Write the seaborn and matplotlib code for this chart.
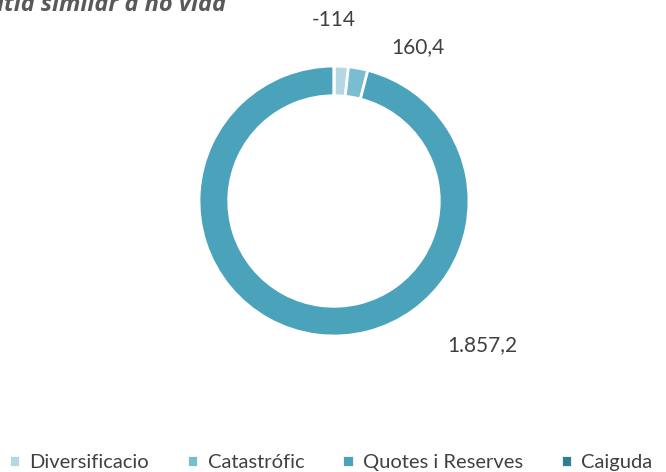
import matplotlib
matplotlib.use("Agg")
import matplotlib.pyplot as plt
import seaborn as sns
import numpy as np

# data (slice shares read from the ring, labels as printed on the chart)
categories = ["Diversificacio", "Catastrófic", "Quotes i Reserves", "Caiguda"]
slice_values = [33, 45, 1857.2, 0]
value_labels = ["-114", "160,4", "1.857,2", ""]
colors = ["#B4D8E2", "#7ABCD0", "#4AA2BB", "#2F7F91"]

title_text = "itia similar a no vida"

sns.set_theme(style="white")
plt.rcParams['font.family'] = ['Lato', 'DejaVu Sans']

fig = plt.figure(figsize=(6.66, 4.72), dpi=100)
ax = fig.add_axes([0.2988, 0.2881, 0.4054, 0.572])

wedges, _ = ax.pie(slice_values, colors=colors, startangle=90, counterclock=False,
                   wedgeprops=dict(width=0.22, edgecolor="white", linewidth=2))
ax.set_xlim(-1, 1)
ax.set_ylim(-1, 1)
ax.set_aspect("equal")
ax.axis("off")

# label placement (angle clockwise from top in degrees, radius in ring units)
label_angle = [0, 28.5, 134.2, 0]
label_radius = [1.34, 1.30, 1.53, 0]
for txt, a, r in zip(value_labels, label_angle, label_radius):
    if not txt:
        continue
    th = np.deg2rad(a)
    ax.text(r * np.sin(th), r * np.cos(th), txt, ha="center", va="center",
            fontsize=15, color="#404040", clip_on=False)

fig.text(-0.004, 1 - 11 / 472, title_text, ha="left", va="baseline", fontsize=17,
         fontweight="bold", fontstyle="italic", color="#595959",
         family=["Open Sans", "DejaVu Sans"])

leg = fig.legend(wedges, categories, loc="lower left", bbox_to_anchor=(0.002, -0.016),
                 ncol=4, frameon=False, fontsize=14.5, handlelength=0.55,
                 handleheight=0.55, handletextpad=0.45, columnspacing=1.9,
                 borderaxespad=0, labelcolor="#404040")

fig.savefig("out.png", dpi=100)
